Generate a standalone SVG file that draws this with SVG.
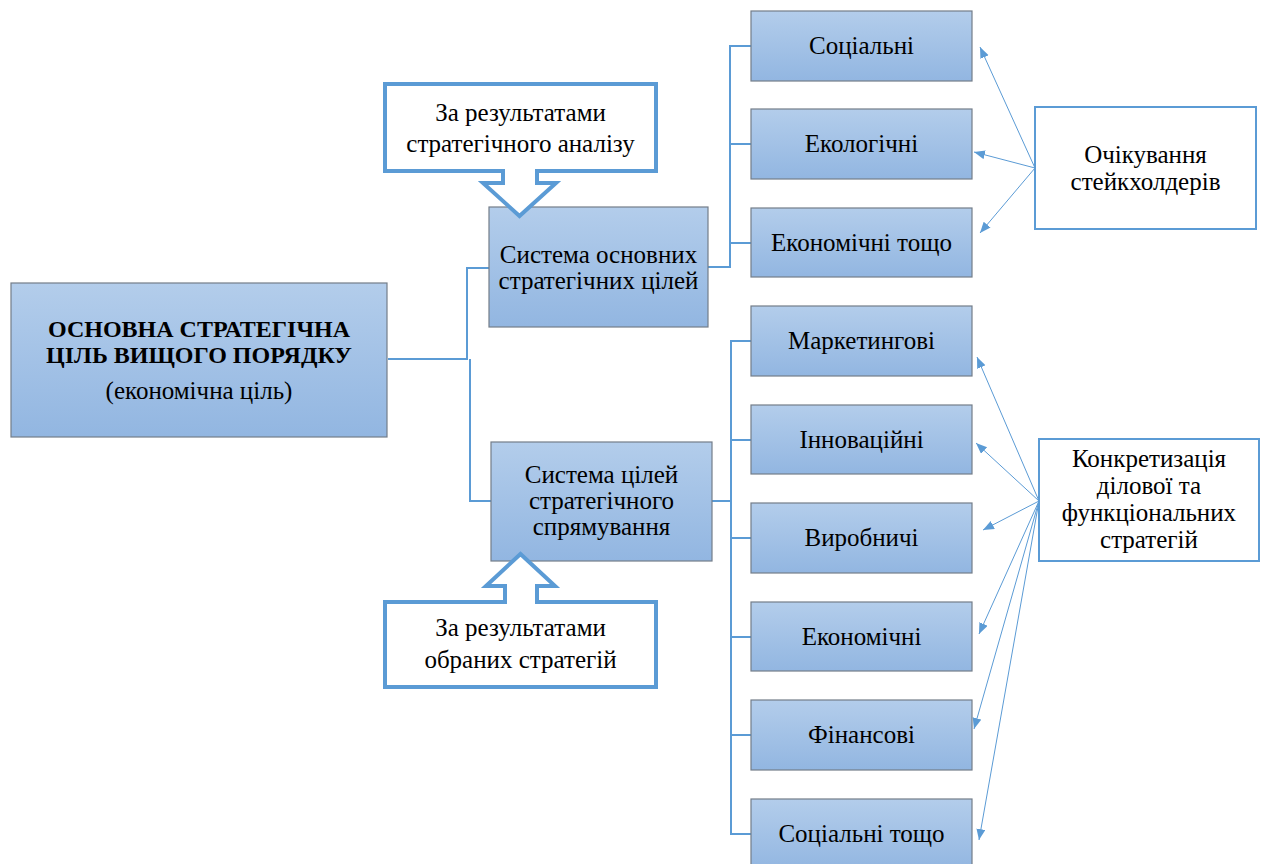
<svg xmlns="http://www.w3.org/2000/svg" width="1267" height="864" viewBox="0 0 1267 864">
  <defs>
    <linearGradient id="boxFill" x1="0" y1="0" x2="0" y2="1">
      <stop offset="0" stop-color="#b3cdeb"/>
      <stop offset="1" stop-color="#92b6e1"/>
    </linearGradient>
    <marker id="tip" markerUnits="userSpaceOnUse" markerWidth="12" markerHeight="10" refX="11" refY="4.5" orient="auto">
      <path d="M0,0 L11,4.5 L0,9 Z" fill="#5b9bd5"/>
    </marker>
    <style>
      .box { fill: url(#boxFill); stroke: #737d89; stroke-width: 1.2; }
      .plain { fill: #ffffff; stroke: #5b9bd5; stroke-width: 2; }
      .callout { fill: #ffffff; stroke: #5b9bd5; stroke-width: 4; stroke-linejoin: miter; }
      .tree { fill: none; stroke: #5b9bd5; stroke-width: 2; }
      .ray { fill: none; stroke: #5b9bd5; stroke-width: 1; marker-end: url(#tip); }
      text { font-family: "Liberation Serif", "Times New Roman", serif; font-size: 25px; fill: #000000; text-anchor: middle; }
      .bold { font-weight: bold; font-size: 24px; }
    </style>
  </defs>
  <rect width="1267" height="864" fill="#ffffff"/>

  <!-- tree connectors and rays -->
  <g id="connectors">
    <polyline class="tree" points="388,359 468,359"/>
    <polyline class="tree" points="489,268 467,268 467,359"/>
    <polyline class="tree" points="491,501 470,501 470,359"/>
    <polyline class="tree" points="708,267 730,267 730,46 751,46"/>
    <line class="tree" x1="730" y1="144" x2="751" y2="144"/>
    <line class="tree" x1="730" y1="243" x2="751" y2="243"/>
    <polyline class="tree" points="712,501 731,501"/>
    <polyline class="tree" points="751,341 731,341 731,834 751,834"/>
    <line class="tree" x1="731" y1="440" x2="751" y2="440"/>
    <line class="tree" x1="731" y1="538" x2="751" y2="538"/>
    <line class="tree" x1="731" y1="637" x2="751" y2="637"/>
    <line class="tree" x1="731" y1="735" x2="751" y2="735"/>

    <line class="ray" x1="1035" y1="168" x2="980" y2="47"/>
    <line class="ray" x1="1035" y1="168" x2="974" y2="152"/>
    <line class="ray" x1="1035" y1="168" x2="980" y2="233"/>

    <line class="ray" x1="1039" y1="501" x2="977" y2="357"/>
    <line class="ray" x1="1039" y1="501" x2="976" y2="443"/>
    <line class="ray" x1="1039" y1="501" x2="983" y2="530"/>
    <line class="ray" x1="1039" y1="501" x2="979" y2="634"/>
    <line class="ray" x1="1039" y1="501" x2="974" y2="729"/>
    <line class="ray" x1="1039" y1="501" x2="979" y2="840"/>
  </g>

  <g id="main-goal">
    <rect class="box" x="11" y="283" width="376" height="154"/>
    <text class="bold" x="199" y="337">ОСНОВНА СТРАТЕГІЧНА</text>
    <text class="bold" x="199" y="363">ЦІЛЬ ВИЩОГО ПОРЯДКУ</text>
    <text x="199" y="399">(економічна ціль)</text>
  </g>

  <g id="core-goals">
    <rect class="box" x="489" y="207" width="219" height="120"/>
    <text x="598.5" y="263">Система основних</text>
    <text x="598.5" y="289">стратегічних цілей</text>
  </g>

  <g id="direction-goals">
    <rect class="box" x="491" y="442" width="221" height="119"/>
    <text x="601.5" y="483">Система цілей</text>
    <text x="601.5" y="509">стратегічного</text>
    <text x="601.5" y="535">спрямування</text>
  </g>

  <g id="social">
    <rect class="box" x="751" y="11" width="221" height="70"/>
    <text x="861.5" y="54">Соціальні</text>
  </g>
  <g id="ecological">
    <rect class="box" x="751" y="109" width="221" height="70"/>
    <text x="861.5" y="152">Екологічні</text>
  </g>
  <g id="economic-etc">
    <rect class="box" x="751" y="208" width="221" height="69"/>
    <text x="861.5" y="251">Економічні тощо</text>
  </g>

  <g id="marketing">
    <rect class="box" x="751" y="306" width="221" height="70"/>
    <text x="861.5" y="349">Маркетингові</text>
  </g>
  <g id="innovation">
    <rect class="box" x="751" y="405" width="221" height="69"/>
    <text x="861.5" y="448">Інноваційні</text>
  </g>
  <g id="production">
    <rect class="box" x="751" y="503" width="221" height="70"/>
    <text x="861.5" y="546">Виробничі</text>
  </g>
  <g id="economic">
    <rect class="box" x="751" y="602" width="221" height="69"/>
    <text x="861.5" y="645">Економічні</text>
  </g>
  <g id="financial">
    <rect class="box" x="751" y="700" width="221" height="70"/>
    <text x="861.5" y="743">Фінансові</text>
  </g>
  <g id="social-etc">
    <rect class="box" x="751" y="799" width="221" height="72"/>
    <text x="861.5" y="842">Соціальні тощо</text>
  </g>

  <g id="stakeholders">
    <rect class="plain" x="1035" y="107" width="221" height="122"/>
    <text x="1145.5" y="163">Очікування</text>
    <text x="1145.5" y="190">стейкхолдерів</text>
  </g>

  <g id="strategies">
    <rect class="plain" x="1039" y="439" width="220" height="122"/>
    <text x="1149" y="467">Конкретизація</text>
    <text x="1149" y="494">ділової та</text>
    <text x="1149" y="521">функціональних</text>
    <text x="1149" y="548">стратегій</text>
  </g>

  <g id="analysis-callout">
    <path class="callout" d="M385,84 H656 V171 H537 V183 H556 L519.5,216 L483,183 H503 V171 H385 Z"/>
    <text x="520.5" y="121">За результатами</text>
    <text x="520.5" y="152">стратегічного аналізу</text>
  </g>

  <g id="choice-callout">
    <path class="callout" d="M385,602 H505 V586 H486 L520.5,554 L555,586 H537 V602 H656 V687 H385 Z"/>
    <text x="520.5" y="636">За результатами</text>
    <text x="520.5" y="668">обраних стратегій</text>
  </g>
</svg>
